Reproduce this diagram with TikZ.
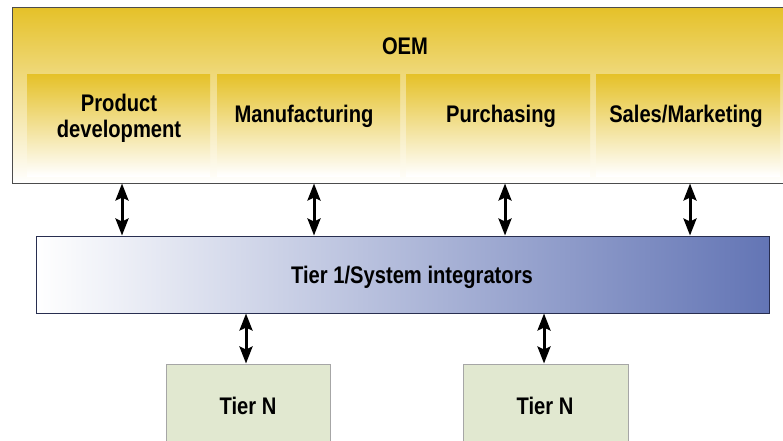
\documentclass[tikz,border=0pt]{standalone}
\usepackage{fontspec}
\setmainfont{Liberation Sans}[FakeStretch=0.84]
\usetikzlibrary{arrows.meta}
\definecolor{gold}{RGB}{229,193,40}
\definecolor{bluedark}{RGB}{99,117,181}
\definecolor{tiern}{RGB}{225,232,208}
\definecolor{navy}{RGB}{40,46,80}
\tikzset{
  lbl/.style={font=\fontsize{24}{26}\selectfont\bfseries, align=center, text=black},
  oembox/.style={draw=black!70, line width=1pt, top color=gold, bottom color=white, inner sep=0pt},
  subbox/.style={top color=gold, bottom color=white, draw=none, inner sep=0pt},
  tierbox/.style={draw=navy, line width=0.9pt, left color=white, right color=bluedark, inner sep=0pt},
  nbox/.style={draw=black!35, line width=1pt, fill=tiern, inner sep=0pt},
  biarrow/.style={line width=3pt, {Stealth[length=17pt,width=13pt,inset=3pt]}-{Stealth[length=17pt,width=13pt,inset=3pt]}, shorten >=0.5pt, shorten <=0.5pt}
}
\begin{document}
\begin{tikzpicture}[x=1pt,y=-1pt]
\useasboundingbox (0,0) rectangle (783,440);
\begin{scope}
\clip (0,0) rectangle (783,440);
% OEM outer box
\path[oembox] (12,7) rectangle (795,183);
\node[lbl] (oem) at (405,46) {OEM};
\coordinate (oemS) at (405,183);
% inner boxes
\path[subbox] (27,74) rectangle (210,176);
\path[subbox] (217,74) rectangle (400,176);
\path[subbox] (406,74) rectangle (590,176);
\path[subbox] (596,74) rectangle (780,176);
\node[lbl] (pd) at (119,118) {Product\\development};
\node[lbl] (mf) at (304,116) {Manufacturing};
\node[lbl] (pu) at (501,116) {Purchasing};
\node[lbl] (sm) at (686,116) {Sales/Marketing};
% Tier 1
\path[tierbox] (36,236) rectangle (769,313);
\coordinate (t1N) at (405,236);
\coordinate (t1S) at (405,313);
\node[lbl] (t1) at (412,277) {Tier 1/System integrators};
% Tier N
\path[nbox] (166,364) rectangle (330,450);
\path[nbox] (463,364) rectangle (628,450);
\coordinate (n1N) at (246,364);
\coordinate (n2N) at (544,364);
\node[lbl] (n1) at (248,406) {Tier N};
\node[lbl] (n2) at (545,406) {Tier N};
% arrows
\draw[biarrow] (oemS -| 122,0) -- (t1N -| 122,0);
\draw[biarrow] (oemS -| 314,0) -- (t1N -| 314,0);
\draw[biarrow] (oemS -| 505,0) -- (t1N -| 505,0);
\draw[biarrow] (oemS -| 690,0) -- (t1N -| 690,0);
\draw[biarrow] (t1S -| n1N) -- (n1N);
\draw[biarrow] (t1S -| n2N) -- (n2N);
\end{scope}
\end{tikzpicture}
\end{document}
